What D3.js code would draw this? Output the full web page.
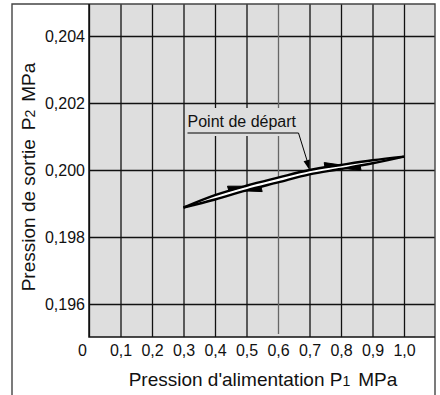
<!DOCTYPE html>
<html>
<head>
<meta charset="utf-8">
<script src="https://cdn.jsdelivr.net/npm/d3@7"></script>
<style>
  body { margin: 0; background: #fff; }
  text { font-family: "Liberation Sans", Arial, Helvetica, sans-serif; fill: #111; }
</style>
</head>
<body>
<div id="chart"></div>
<script>
const width = 440;
const height = 395;

// data
const p1 = [0.3, 0.4, 0.5, 0.6, 0.7, 0.8, 0.9, 1.0];
const p2Rising = [0.19888, 0.19925, 0.19953, 0.19977, 0.20000, 0.20015, 0.20029, 0.20040];
const p2Falling = [0.19888, 0.19912, 0.19939, 0.19963, 0.19987, 0.20003, 0.20020, 0.20040];
const risingArrowTips = [0.495, 0.80];
const fallingArrowTips = [0.495, 0.81];
const startPoint = [0.7, 0.2000];

const xTicks = [0, 0.1, 0.2, 0.3, 0.4, 0.5, 0.6, 0.7, 0.8, 0.9, 1.0];
const xTickLabels = ['0', '0,1', '0,2', '0,3', '0,4', '0,5', '0,6', '0,7', '0,8', '0,9', '1,0'];
const yTicks = [0.196, 0.198, 0.200, 0.202, 0.204];
const yTickLabels = ['0,196', '0,198', '0,200', '0,202', '0,204'];

const plot = { left: 89, right: 435, top: 4, bottom: 337 };

const x = d3.scaleLinear().domain([0, 1.1]).range([plot.left, plot.left + 346.5]);
const y = d3.scaleLinear().domain([0.195, 0.205]).range([337.5, 2.5]);

const svg = d3.select('#chart')
    .append('svg')
    .attr('width', width)
    .attr('height', height)
    .attr('viewBox', `0,0,${width},${height}`);

// plot background
svg.append('rect')
    .attr('x', plot.left)
    .attr('y', plot.top)
    .attr('width', plot.right - plot.left)
    .attr('height', plot.bottom - plot.top)
    .style('fill', '#dedede');

// horizontal grid + y labels
const yAxis = svg.append('g')
    .attr('transform', `translate(${plot.left},0)`)
    .call(d3.axisLeft(y)
        .tickValues(yTicks)
        .tickSize(-(plot.right - plot.left))
        .tickPadding(4)
        .tickFormat((d, i) => yTickLabels[i]));
yAxis.select('.domain').remove();
yAxis.selectAll('line').style('stroke', '#111').style('stroke-width', 1.3);
yAxis.selectAll('text').style('font-size', '16px').attr('fill', '#111');

// vertical grid + x labels
const xAxis = svg.append('g')
    .attr('transform', `translate(0,${plot.bottom})`)
    .call(d3.axisBottom(x)
        .tickValues(xTicks)
        .tickSize(-(plot.bottom - plot.top))
        .tickPadding(8)
        .tickFormat((d, i) => xTickLabels[i]));
xAxis.select('.domain').remove();
xAxis.selectAll('line').style('stroke', '#111').style('stroke-width', 1.3);
xAxis.selectAll('text').style('font-size', '16px').attr('fill', '#111');
xAxis.selectAll('.tick').filter(d => d === 0).select('text').attr('dx', -7);
// the 0,6 line is fainter and a bit short in the original
xAxis.selectAll('.tick').filter(d => Math.abs(d - 0.6) < 1e-9).select('line')
    .attr('y1', -3).style('stroke', '#666');

// frame around the whole figure (open at the bottom)
svg.append('path')
    .attr('d', `M12,${height}V4H435V${height}`)
    .style('fill', 'none')
    .style('stroke', '#444')
    .style('stroke-width', 1.4);

// plot borders
svg.append('path')
    .attr('d', `M${plot.left},${plot.top}V${plot.bottom}H${plot.right}`)
    .style('fill', 'none')
    .style('stroke', '#111')
    .style('stroke-width', 1.5);

// label box hiding the grid behind the annotation
const lx = x(startPoint[0]), ly = y(startPoint[1]);
svg.append('rect')
    .attr('x', lx - 123)
    .attr('y', ly - 62)
    .attr('width', 114)
    .attr('height', 28)
    .style('fill', '#dedede');

// white gap between the two curves
svg.append('path')
    .datum(p1)
    .attr('d', d3.area()
        .x(d => x(d))
        .y0((d, i) => y(p2Falling[i]))
        .y1((d, i) => y(p2Rising[i]))
        .curve(d3.curveMonotoneX))
    .style('fill', '#fff');

// curves
const line = d3.line()
    .x((d, i) => x(p1[i]))
    .y(d => y(d))
    .curve(d3.curveMonotoneX);

svg.append('path')
    .datum(p2Rising)
    .attr('d', line)
    .style('fill', 'none')
    .style('stroke', '#000')
    .style('stroke-width', 2.4);

svg.append('path')
    .datum(p2Falling)
    .attr('d', line)
    .style('fill', 'none')
    .style('stroke', '#000')
    .style('stroke-width', 2.4);

// half arrowheads along the curves
function valueAt(series, v) {
    const i = Math.max(1, d3.bisectLeft(p1, v));
    const t = (v - p1[i - 1]) / (p1[i] - p1[i - 1]);
    return series[i - 1] + t * (series[i] - series[i - 1]);
}

function halfArrow(series, tip, dir, side) {
    // dir: +1 points right, -1 points left; side: -1 outward up, +1 outward down
    const tx = x(tip), ty = y(valueAt(series, tip));
    const backV = x.invert(tx - dir * 16);
    const bx = x(backV), by = y(valueAt(series, backV));
    const dx = tx - bx, dy = ty - by, len = Math.hypot(dx, dy);
    const nx = -dy / len, ny = dx / len;
    const sgn = (ny * side > 0) ? 1 : -1;
    const ox = bx + nx * 5 * sgn, oy = by + ny * 5 * sgn;
    svg.append('path')
        .attr('d', `M${tx},${ty}L${bx},${by}L${ox},${oy}Z`)
        .style('fill', '#000')
        .style('stroke', '#000')
        .style('stroke-width', 1);
}

risingArrowTips.forEach(t => halfArrow(p2Rising, t, 1, -1));
fallingArrowTips.forEach(t => halfArrow(p2Falling, t, -1, 1));

// annotation "Point de départ"
const ux0 = lx - 122, uy = ly - 37, ux1 = lx - 11;
svg.append('text')
    .attr('x', ux0)
    .attr('y', uy - 6)
    .style('font-size', '16px')
    .text('Point de départ');

svg.append('path')
    .attr('d', `M${ux0},${uy}H${ux1}L${lx - 2},${ly - 8}`)
    .style('fill', 'none')
    .style('stroke', '#000')
    .style('stroke-width', 1);

{
    const ang = Math.atan2(ly - (uy), lx - ux1);
    const L = 10, W = 3.2;
    const bx = lx - L * Math.cos(ang), by = ly - L * Math.sin(ang);
    const px = -Math.sin(ang) * W, py = Math.cos(ang) * W;
    svg.append('path')
        .attr('d', `M${lx},${ly}L${bx + px},${by + py}L${bx - px},${by - py}Z`)
        .style('fill', '#000');
}

// axis titles
const xt = svg.append('text')
    .attr('x', 263)
    .attr('y', 386)
    .attr('text-anchor', 'middle')
    .style('font-size', '19px');
xt.append('tspan').text("Pression d'alimentation P");
xt.append('tspan').style('font-size', '14px').text('1');
xt.append('tspan').attr('dx', 8).text('MPa');

const yt = svg.append('text')
    .attr('transform', 'translate(35,177) rotate(-90)')
    .attr('text-anchor', 'middle')
    .style('font-size', '19px');
yt.append('tspan').text('Pression de sortie');
yt.append('tspan').attr('dx', 9).text('P');
yt.append('tspan').style('font-size', '14px').text('2');
yt.append('tspan').attr('dx', 8).text('MPa');
</script>
</body>
</html>
